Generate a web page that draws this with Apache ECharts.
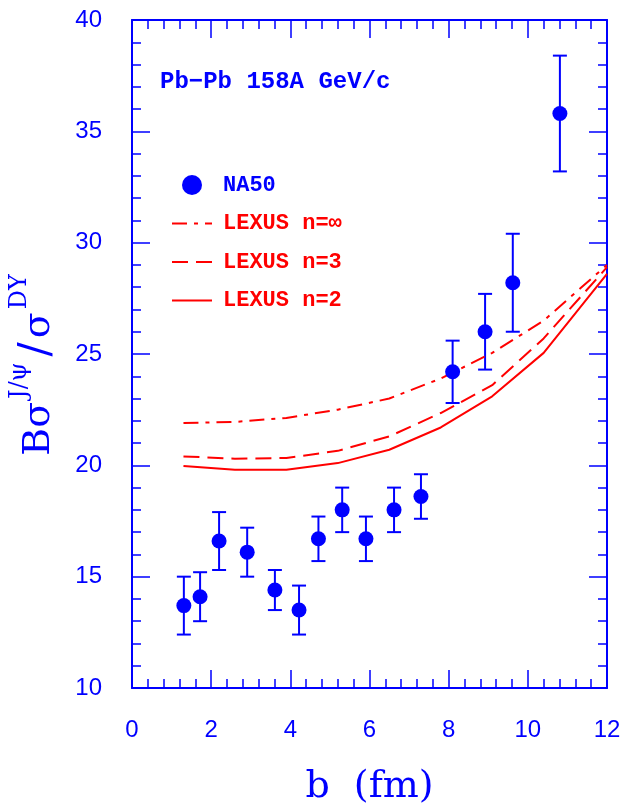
<!DOCTYPE html>
<html>
<head>
<meta charset="utf-8">
<script src="https://cdn.jsdelivr.net/npm/echarts@6/dist/echarts.min.js"></script>
<style>
html,body{margin:0;padding:0;background:#fff;}
#chart{width:622px;height:806px;}
</style>
</head>
<body>
<div id="chart"></div>
<script>
// NA50 data: impact parameter b (fm), ratio, error bar bounds
const naB    = [1.31, 1.72, 2.20, 2.91, 3.61, 4.22, 4.71, 5.31, 5.91, 6.62, 7.30, 8.10, 8.92, 9.62, 10.81];
const naY    = [13.7, 14.1, 16.6, 16.1, 14.4, 13.5, 16.7, 18.0, 16.7, 18.0, 18.6, 24.2, 26.0, 28.2, 35.8];
const naLow  = [12.4, 13.0, 15.3, 15.0, 13.5, 12.4, 15.7, 17.0, 15.7, 17.0, 17.6, 22.8, 24.3, 26.0, 33.2];
const naHigh = [15.0, 15.2, 17.9, 17.2, 15.3, 14.6, 17.7, 19.0, 17.7, 19.0, 19.6, 25.6, 27.7, 30.4, 38.4];

// LEXUS model curves
const lexB    = [1.3, 2.6, 3.9, 5.2, 6.5, 7.8, 9.1, 10.4, 12.0];
const lexInf  = [21.9, 21.95, 22.13, 22.5, 23.0, 23.9, 25.05, 26.5, 29.0];
const lexN3   = [20.4, 20.3, 20.33, 20.65, 21.3, 22.35, 23.6, 25.7, 28.9];
const lexN2   = [19.97, 19.8, 19.8, 20.1, 20.7, 21.7, 23.1, 25.05, 28.6];

const xTicks = {min: 0, max: 12, interval: 2};
const yTicks = {min: 10, max: 40, interval: 5};

const BLUE = '#0000ff', RED = '#ff0000';
const zip = (a, b) => a.map((v, i) => [v, b[i]]);

const axisCommon = {
  axisLine: {show: true, onZero: false, lineStyle: {color: BLUE, width: 2}},
  axisTick: {show: true, inside: true, length: 18, lineStyle: {color: BLUE, width: 1.5}},
  minorTick: {show: true, splitNumber: 5, length: 9, lineStyle: {color: BLUE, width: 1.5}},
  splitLine: {show: false},
  minorSplitLine: {show: false}
};

const chart = echarts.init(document.getElementById('chart'), null, {renderer: 'canvas'});
chart.setOption({
  animation: false,
  backgroundColor: '#fff',
  grid: {left: 132, top: 20, width: 475, height: 668, containLabel: false, outerBoundsMode: 'none'},
  xAxis: [
    Object.assign({
      type: 'value', position: 'bottom', min: xTicks.min, max: xTicks.max, interval: xTicks.interval,
      axisLabel: {show: true, margin: 30, color: BLUE, fontFamily: 'Liberation Sans', fontSize: 24},
      name: 'b  (fm)', nameLocation: 'middle', nameGap: 80,
      nameTextStyle: {color: BLUE, fontFamily: 'DejaVu Serif', fontSize: 38}
    }, axisCommon),
    Object.assign({
      type: 'value', position: 'top', min: xTicks.min, max: xTicks.max, interval: xTicks.interval,
      axisLabel: {show: false}
    }, axisCommon)
  ],
  yAxis: [
    Object.assign({
      type: 'value', position: 'left', min: yTicks.min, max: yTicks.max, interval: yTicks.interval,
      axisLabel: {show: true, margin: 30, color: BLUE, fontFamily: 'Liberation Sans', fontSize: 24},
      name: '{b|B}{s|σ}{sup|J/ψ}{sl|/}{s|σ}{sup|DY}', nameLocation: 'middle', nameGap: 74, nameRotate: 90,
      nameTextStyle: {
        color: BLUE,
        padding: [0, 20, 0, 0],
        rich: {
          b:   {fontFamily: 'DejaVu Serif', fontSize: 38, color: BLUE, lineHeight: 50, verticalAlign: 'bottom'},
          s:   {fontFamily: 'DejaVu Serif', fontSize: 38, color: BLUE, lineHeight: 50, verticalAlign: 'bottom'},
          sl:  {fontFamily: 'DejaVu Serif', fontSize: 42, color: BLUE, lineHeight: 50, verticalAlign: 'bottom', padding: [0, 4, 0, 4]},
          sup: {fontFamily: 'DejaVu Serif', fontSize: 24, color: BLUE, lineHeight: 12, verticalAlign: 'top', padding: [0, 2, 0, 3]}
        }
      }
    }, axisCommon),
    Object.assign({
      type: 'value', position: 'right', min: yTicks.min, max: yTicks.max, interval: yTicks.interval,
      axisLabel: {show: false}
    }, axisCommon)
  ],
  legend: {
    show: true, orient: 'vertical', left: 166, top: 169,
    itemWidth: 40, itemHeight: 20, itemGap: 16.5,
    data: [
      {name: 'NA50', icon: 'circle', textStyle: {color: BLUE}},
      {name: 'LEXUS n=∞', itemStyle: {opacity: 0}, textStyle: {color: RED}},
      {name: 'LEXUS n=3', itemStyle: {opacity: 0}, textStyle: {color: RED}},
      {name: 'LEXUS n=2', itemStyle: {opacity: 0}, textStyle: {color: RED}}
    ],
    textStyle: {fontFamily: 'Liberation Mono', fontWeight: 'bold', fontSize: 22, lineHeight: 20, padding: [0, 0, 0, 6]},
    selectedMode: false
  },
  graphic: [{
    type: 'text', x: 160, y: 82,
    style: {text: 'Pb−Pb 158A GeV/c', fill: BLUE, font: 'bold 24px "Liberation Mono"', verticalAlign: 'middle', align: 'left'}
  }],
  series: [
    {
      type: 'custom', name: 'errbars', xAxisIndex: 0, yAxisIndex: 0, z: 2,
      data: naB.map((b, i) => [b, naLow[i], naHigh[i]]),
      renderItem: function (params, api) {
        const x = api.value(0);
        const lo = api.coord([x, api.value(1)]);
        const hi = api.coord([x, api.value(2)]);
        const hw = 7;
        const st = {stroke: BLUE, lineWidth: 2};
        return {type: 'group', children: [
          {type: 'line', shape: {x1: lo[0], y1: lo[1], x2: hi[0], y2: hi[1]}, style: st},
          {type: 'line', shape: {x1: lo[0] - hw, y1: lo[1], x2: lo[0] + hw, y2: lo[1]}, style: st},
          {type: 'line', shape: {x1: hi[0] - hw, y1: hi[1], x2: hi[0] + hw, y2: hi[1]}, style: st}
        ]};
      }
    },
    {
      type: 'scatter', name: 'NA50', data: zip(naB, naY), symbol: 'circle', symbolSize: 15,
      itemStyle: {color: BLUE, opacity: 1}, z: 5
    },
    {
      type: 'line', name: 'LEXUS n=∞', data: zip(lexB, lexInf), symbol: 'none', smooth: false,
      lineStyle: {color: RED, width: 2, type: [15, 7, 4, 7]}, itemStyle: {color: RED}, z: 3
    },
    {
      type: 'line', name: 'LEXUS n=3', data: zip(lexB, lexN3), symbol: 'none', smooth: false,
      lineStyle: {color: RED, width: 2, type: [16, 8]}, itemStyle: {color: RED}, z: 3
    },
    {
      type: 'line', name: 'LEXUS n=2', data: zip(lexB, lexN2), symbol: 'none', smooth: false,
      lineStyle: {color: RED, width: 2, type: 'solid'}, itemStyle: {color: RED}, z: 3
    }
  ]
});
</script>
</body>
</html>
